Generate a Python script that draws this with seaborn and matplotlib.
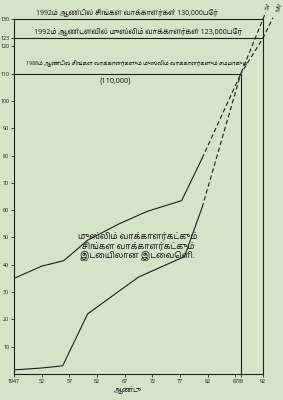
import matplotlib
matplotlib.use("Agg")
import matplotlib.pyplot as plt
import seaborn as sns
import pandas as pd
from matplotlib import font_manager
from matplotlib.ft2font import FT2Font

# ---- data ----
sv_years = [1947, 1952, 1956, 1960.3, 1966, 1971, 1977.3, 1981]
sv_vals = [35, 39.5, 41.5, 49, 55, 59.5, 63.5, 79]
sv_proj_years = [1981, 1988, 1992, 1992.5]
sv_proj_vals = [79, 110, 130, 132.5]

mv_years = [1947, 1952, 1955.8, 1960.3, 1969.5, 1977.8, 1981]
mv_vals = [1.5, 2.2, 3, 22, 35.5, 43, 61]
mv_proj_years = [1981, 1988, 1992, 1993.8]
mv_proj_vals = [61, 110, 123, 130.5]

x_ticks = [1947, 1952, 1957, 1962, 1967, 1972, 1977, 1982, 1987, 1988, 1992]
x_labels = ["1947", "52", "57", "62", "67", "72", "77", "82", "87", "88", "92"]
y_ticks = [10, 20, 30, 40, 50, 60, 70, 80, 90, 100, 110, 120, 123, 130]

title_130 = "1992ம் ஆண்டில் சிங்கள வாக்காளர்கள் 130,000பேர்"
title_123 = "1992ம் ஆண்டளவில் முஸ்லிம் வாக்காளர்கள் 123,000பேர்"
title_110 = "1988ம் ஆண்டில் சிங்கள வாக்காளர்களும் முஸ்லிம் வாக்காளர்களும் சமமாகும்"
sub_110 = "(110,000)"
gap_text = "முஸ்லிம் வாக்காளர்கட்கும்\nசிங்கள வாக்காளர்கட்கும்\nஇடையிலான இடைவெளி."
x_title = "ஆண்டு"

# ---- font search for Tamil ----
tamil_fonts = []
for path in font_manager.findSystemFonts():
    try:
        f = FT2Font(path)
        cm = f.get_charmap()
        if 0x0B95 in cm and 0x0BCD in cm:
            tamil_fonts.append(font_manager.FontProperties(fname=path).get_name())
    except Exception:
        pass
pref = [n for n in tamil_fonts if "Sans" in n] + tamil_fonts
tamil_family = pref[0] if pref else None

sns.set_theme(style="white")
fams = ([tamil_family] if tamil_family else []) + ["DejaVu Sans"]
plt.rcParams["font.family"] = fams

bg = "#d4e4c8"
ink = "#1e1e1e"

fig = plt.figure(figsize=(2.83, 4.0), dpi=100, facecolor=bg)
ax = fig.add_axes([14 / 283, 26 / 400, 249 / 283, 355 / 400])
ax.set_facecolor(bg)

df_sv = pd.DataFrame({"year": sv_years, "val": sv_vals})
df_mv = pd.DataFrame({"year": mv_years, "val": mv_vals})
df_svp = pd.DataFrame({"year": sv_proj_years, "val": sv_proj_vals})
df_mvp = pd.DataFrame({"year": mv_proj_years, "val": mv_proj_vals})

lw = 0.8
sns.lineplot(data=df_sv, x="year", y="val", ax=ax, color=ink, lw=lw, sort=False)
sns.lineplot(data=df_mv, x="year", y="val", ax=ax, color=ink, lw=lw, sort=False)
sns.lineplot(data=df_svp, x="year", y="val", ax=ax, color=ink, lw=lw,
             sort=False, linestyle=(0, (4, 2.5)))
sns.lineplot(data=df_mvp, x="year", y="val", ax=ax, color=ink, lw=lw,
             sort=False, linestyle=(0, (4, 2.5)))
for ln in ax.lines[-2:]:
    ln.set_clip_on(False)

# reference lines
ax.plot([1947, 1988], [110, 110], color=ink, lw=lw)
ax.plot([1988, 1988], [0, 110], color=ink, lw=lw)
ax.plot([1947, 1992], [123, 123], color=ink, lw=lw)

ax.set_xlim(1947, 1992)
ax.set_ylim(0, 130)
for s in ["left", "bottom", "right", "top"]:
    ax.spines[s].set_visible(True)
    ax.spines[s].set_color(ink)
    ax.spines[s].set_linewidth(lw)

ax.set_xticks(x_ticks)
ax.set_xticklabels(x_labels)
ax.set_yticks(y_ticks)
ax.set_yticklabels([str(v) for v in y_ticks])
ax.tick_params(axis="both", which="both", direction="out", length=2, width=0.6,
               color=ink, labelsize=3.8, labelcolor=ink, pad=1.5,
               left=True, bottom=True)
ax.set_xlabel("")
ax.set_ylabel("")

tkw = dict(color=ink, ha="center", va="center", fontsize=4.6, clip_on=False)
texts = []
texts.append((ax.text(1967.3, 132.0, title_130, **tkw), 182))
texts.append((ax.text(1969.4, 125.2, title_123, **tkw), 208))
texts.append((ax.text(1969.2, 113.7, title_110, **tkw), 222))
texts.append((ax.text(1965.3, 107.3, sub_110, **tkw), 32))
texts.append((ax.text(1969.4, 47, gap_text, color=ink, ha="center", va="center",
                      fontsize=4.6, style="italic", linespacing=1.1), 120))
texts.append((fig.text(128 / 283, 1 - 390 / 400, x_title, color=ink, ha="center",
                       va="center", fontsize=7), 28))

ax.text(1992.9, 134.6, "SV", color=ink, fontsize=4.4, rotation=75,
        ha="center", va="center", clip_on=False)
ax.text(1994.9, 134.3, "MV", color=ink, fontsize=4.4, rotation=75,
        ha="center", va="center", clip_on=False)

# fit text widths to the reference layout
fig.canvas.draw()
r = fig.canvas.get_renderer()
for t, target in texts:
    w = t.get_window_extent(r).width
    if w > 0:
        t.set_fontsize(t.get_fontsize() * target / w)

fig.savefig("out.png", dpi=100, facecolor=bg)
